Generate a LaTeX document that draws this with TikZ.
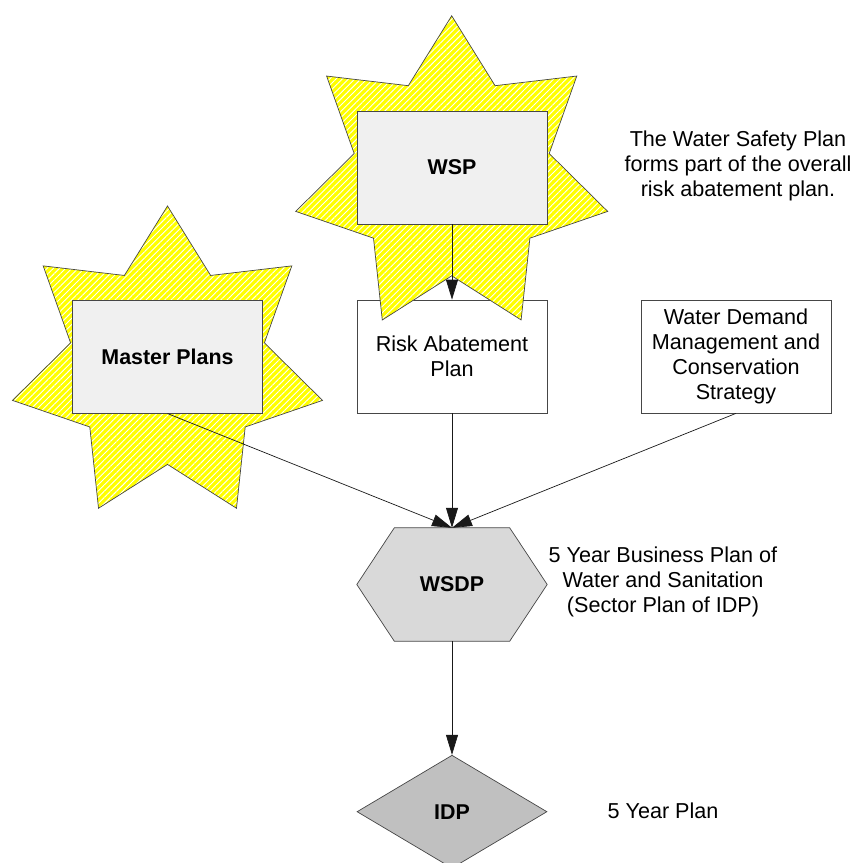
\documentclass[tikz,border=0pt]{standalone}
\usepackage{fontspec}
\setmainfont{Liberation Sans}
\usetikzlibrary{shapes.geometric,arrows.meta,patterns.meta}
\definecolor{staryellow}{RGB}{255,255,0}
\definecolor{boxgray}{RGB}{240,240,240}
\definecolor{hexgray}{RGB}{217,217,217}
\definecolor{diagray}{RGB}{192,192,192}
\definecolor{edgegray}{RGB}{70,70,70}
\pgfdeclarelayer{background}
\pgfsetlayers{background,main}
\begin{document}
\begin{tikzpicture}[x=1pt,y=-1pt,
  txt/.style={font=\fontsize{21.6}{25}\selectfont, align=center},
  bold/.style={font=\fontsize{21.4}{25}\selectfont\bfseries, align=center},
  starshape/.style={shape=star, star points=7, star point ratio=1.6,
    minimum size=320pt, inner sep=0pt, draw=edgegray, line width=0.7pt,
    preaction={fill=staryellow},
    pattern={Lines[angle=45,distance=4.4pt,line width=0.9pt]}, pattern color=white},
  planbox/.style={draw=edgegray, line width=0.7pt, minimum width=190pt,
    minimum height=113pt, inner sep=0pt},
  graybox/.style={planbox, fill=boxgray},
  whitebox/.style={planbox, fill=white},
  hexfill/.style={draw=edgegray, line width=0.7pt, fill=hexgray},
  idpshape/.style={shape=diamond, draw=edgegray, line width=0.7pt, fill=diagray,
    minimum width=190pt, minimum height=113pt, inner sep=0pt, aspect=1.68},
  conn/.style={draw=black!90, line width=0.7pt, -{Triangle[length=20pt,width=12pt]}}
]
\useasboundingbox (0,0) rectangle (850,863);

% boxes under the stars
\node[whitebox, txt] (rap) at (452,356.5) {Risk Abatement\\Plan};
\node[whitebox, txt] (wdm) at (736,356.5) {Water Demand\\Management and\\Conservation\\Strategy};

% stars
\node[starshape] (wspstar) at (451.7,175.8) {};
\node[starshape, minimum size=318pt] (mpstar) at (167.5,365) {};

% grey boxes on the stars
\node[graybox, bold] (wsp) at (452,167.5) {WSP};
\node[graybox, bold] (mp) at (167.5,356.7) {Master Plans};

% WSDP hexagon
\node[bold, minimum width=190pt, minimum height=113pt, inner sep=0pt] (wsdp) at (452,584.5) {WSDP};
\begin{pgfonlayer}{background}
\draw[hexfill] ([xshift=37.5pt]wsdp.north west) -- ([xshift=-37.5pt]wsdp.north east)
  -- (wsdp.east) -- ([xshift=-37.5pt]wsdp.south east) -- ([xshift=37.5pt]wsdp.south west)
  -- (wsdp.west) -- cycle;
\end{pgfonlayer}

% IDP diamond
\node[idpshape, bold] (idp) at (452,811.7) {IDP};

% notes
\node[txt] (note1) at (738,166) {The Water Safety Plan\\forms part of the overall\\risk abatement plan.};
\node[txt] (note2) at (663,582) {5 Year Business Plan of\\Water and Sanitation\\(Sector Plan of IDP)};
\node[txt] (note3) at (663,811) {5 Year Plan};

% connectors
\draw[conn] (wsp.south) -- (rap.north);
\draw[conn] (rap.south) -- (wsdp.north);
\draw[conn] (mp.south) -- (wsdp.north);
\draw[conn] (wdm.south) -- (wsdp.north);
\draw[conn] (wsdp.south) -- (idp.north);
\end{tikzpicture}
\end{document}
